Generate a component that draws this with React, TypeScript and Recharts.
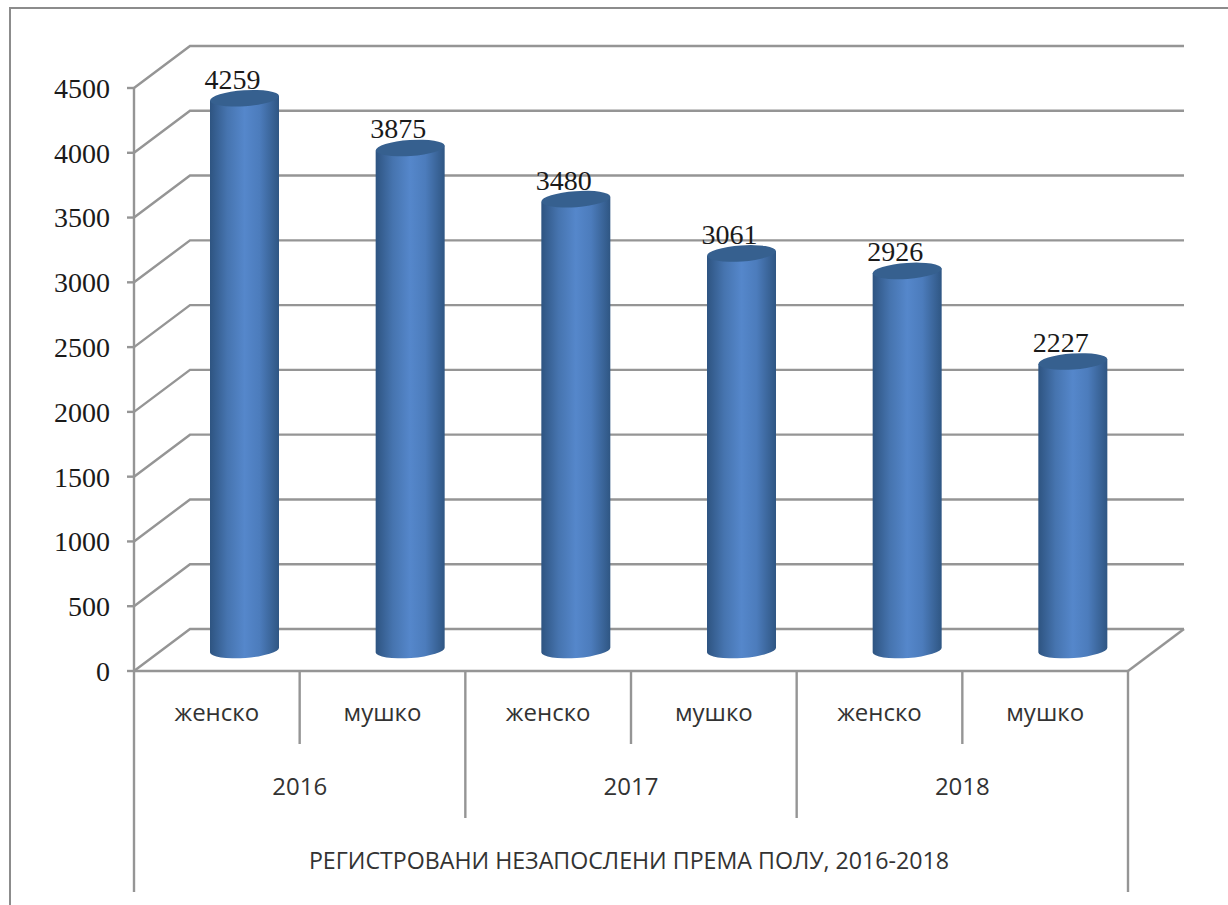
import React from "react";
import { ComposedChart, Bar, XAxis, YAxis, CartesianGrid, LabelList } from "recharts";

const sexes = ["женско", "мушко", "женско", "мушко", "женско", "мушко"];
const years = ["2016", "2016", "2017", "2017", "2018", "2018"];
const values = [4259, 3875, 3480, 3061, 2926, 2227];
const yTicks = [0, 500, 1000, 1500, 2000, 2500, 3000, 3500, 4000, 4500];
const caption = "РЕГИСТРОВАНИ НЕЗАПОСЛЕНИ ПРЕМА ПОЛУ, 2016-2018";

const data = sexes.map((s, i) => ({ sex: s, year: years[i], caption, value: values[i] }));

const LINE = "#959595";
const LW = 2.4;
const SANS = "'Open Sans', 'Noto Sans', sans-serif";
const SERIF = "'Liberation Serif', serif";
const DX = 56;
const DY = -42;

const bandOf = (p: any) => (p.width && p.visibleTicksCount ? p.width / p.visibleTicksCount : 165.67);

const SexTick = (p: any) => {
  const b = bandOf(p);
  return (
    <g>
      <text x={p.x} y={p.y + 44} textAnchor="middle" dominantBaseline="middle" fontFamily={SANS} fontSize={24} fill="#333">
        {p.payload.value}
      </text>
      {p.index % 2 === 0 && <line x1={p.x + b / 2} x2={p.x + b / 2} y1={p.y} y2={p.y + 73} stroke={LINE} strokeWidth={LW} />}
      {p.index === p.visibleTicksCount - 1 && (
        <line x1={p.x + b / 2} x2={p.x + b / 2 + DX} y1={p.y} y2={p.y + DY} stroke={LINE} strokeWidth={LW} />
      )}
    </g>
  );
};

const YearTick = (p: any) => {
  const b = bandOf(p);
  return (
    <g>
      {p.index % 2 === 0 && (
        <text x={p.x + b / 2} y={p.y + 44} textAnchor="middle" dominantBaseline="middle" fontFamily={SANS} fontSize={24} fill="#333">
          {p.payload.value}
        </text>
      )}
      {p.index % 2 === 1 && p.index < p.visibleTicksCount - 1 && (
        <line x1={p.x + b / 2} x2={p.x + b / 2} y1={p.y - 74} y2={p.y + 73} stroke={LINE} strokeWidth={LW} />
      )}
    </g>
  );
};

const CaptionTick = (p: any) => {
  const b = bandOf(p);
  const top = p.y - 147;
  const bottom = p.y + 74;
  return (
    <g>
      {p.index === 0 && (
        <>
          <text x={p.x + b * 2.5 - 2} y={p.y + 45} textAnchor="middle" dominantBaseline="middle" fontFamily={SANS} fontSize={23.2} fill="#333">
            {p.payload.value}
          </text>
          <line x1={p.x - b / 2} x2={p.x - b / 2} y1={top} y2={bottom} stroke={LINE} strokeWidth={LW} />
        </>
      )}
      {p.index === p.visibleTicksCount - 1 && (
        <line x1={p.x + b / 2} x2={p.x + b / 2} y1={top} y2={bottom} stroke={LINE} strokeWidth={LW} />
      )}
    </g>
  );
};

const gridLine = (p: any) => (
  <path
    key={p.key}
    d={`M${p.x1},${p.y1} L${p.x1 + DX},${p.y1 + DY} L${p.x2 + DX},${p.y1 + DY}`}
    fill="none"
    stroke={LINE}
    strokeWidth={LW}
  />
);

const Cylinder = (p: any) => {
  const cx = p.x + p.width / 2 + DX / 2;
  const topY = p.y + DY / 2;
  const botY = p.y + p.height + DY / 2;
  const rx = p.width / 2;
  const ry = 8;
  const tilt = 2.5;
  const l = cx - rx;
  const r = cx + rx;
  return (
    <g>
      <path
        d={`M${l},${topY + tilt} L${l},${botY + tilt} A${rx},${ry} -4 0 0 ${r},${botY - tilt} L${r},${topY - tilt} Z`}
        fill="url(#cyl)"
      />
      <ellipse cx={cx} cy={topY} rx={rx} ry={ry} transform={`rotate(-4 ${cx} ${topY})`} fill="#36608F" />
    </g>
  );
};

const ValueLabel = (p: any) => (
  <text
    x={p.x + p.width / 2 + DX / 2 - 12}
    y={p.y + DY / 2 - 16}
    textAnchor="middle"
    dominantBaseline="middle"
    fontFamily={SERIF}
    fontSize={28}
    fill="#1a1a1a"
  >
    {p.value}
  </text>
);

export default function App() {
  return (
    <div style={{ position: "absolute", left: 0, top: 0, width: 1228, height: 905, overflow: "hidden", background: "#fff" }}>
      <div
        style={{
          position: "absolute",
          left: 9,
          top: 7,
          right: 0,
          bottom: 0,
          borderLeft: "2px solid #8c8c8c",
          borderTop: "2px solid #8c8c8c",
        }}
      />
      <div style={{ position: "absolute", left: 0, top: 0 }}>
        <ComposedChart width={1228} height={905} data={data} margin={{ top: 88, right: 100, bottom: 13, left: 0 }} barSize={69}>
          <defs>
            <linearGradient id="cyl" x1="0" y1="0" x2="1" y2="0">
              <stop offset="0" stopColor="#2E5481" />
              <stop offset="0.25" stopColor="#4674AF" />
              <stop offset="0.5" stopColor="#5587CB" />
              <stop offset="0.72" stopColor="#4C7CBC" />
              <stop offset="1" stopColor="#2F5683" />
            </linearGradient>
          </defs>
          <CartesianGrid vertical={false} horizontal={gridLine} />
          <YAxis
            width={134}
            domain={[0, 4500]}
            ticks={yTicks}
            interval={0}
            tickSize={7}
            tickMargin={17}
            axisLine={{ stroke: LINE, strokeWidth: LW }}
            tickLine={{ stroke: LINE, strokeWidth: LW }}
            tick={{ fontFamily: SERIF, fontSize: 28, fill: "#1a1a1a" }}
          />
          <XAxis dataKey="sex" height={74} interval={0} tickSize={0} tickMargin={0} tickLine={false} axisLine={{ stroke: LINE, strokeWidth: LW }} tick={SexTick} />
          <XAxis xAxisId="level2" dataKey="year" height={73} interval={0} tickSize={0} tickMargin={0} tickLine={false} axisLine={false} tick={YearTick} />
          <XAxis xAxisId="level3" dataKey="caption" height={74} interval={0} tickSize={0} tickMargin={0} tickLine={false} axisLine={false} tick={CaptionTick} />
          <Bar dataKey="value" shape={Cylinder} isAnimationActive={false}>
            <LabelList dataKey="value" content={ValueLabel} />
          </Bar>
        </ComposedChart>
      </div>
    </div>
  );
}
